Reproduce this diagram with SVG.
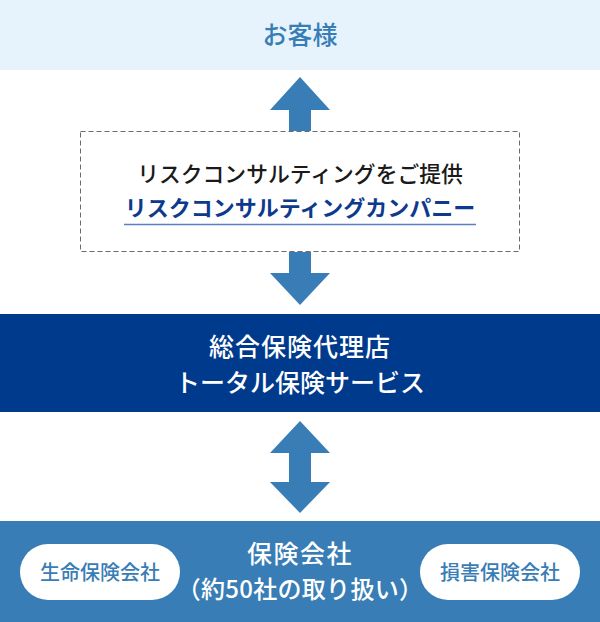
<svg xmlns="http://www.w3.org/2000/svg" width="600" height="622" viewBox="0 0 600 622">
<style>
text{font-family:"Noto Sans CJK JP","Noto Sans",sans-serif;text-anchor:middle}
.arr{fill:#387db5}
</style>
<rect width="600" height="622" fill="#ffffff"/>
<g id="customer">
<rect x="0" y="0" width="600" height="70" fill="#e6f3fd"/>
<text x="300" y="44" font-size="25" font-weight="500" fill="#387db5">お客様</text>
</g>
<g id="consulting">
<rect x="80.5" y="131.5" width="439" height="120" fill="#ffffff" stroke="#6b6b6b" stroke-width="1" stroke-dasharray="5,3"/>
<text x="300" y="182" font-size="21.8" font-weight="500" fill="#1a1a1a">リスクコンサルティングをご提供</text>
<text x="300" y="216" font-size="22" font-weight="700" fill="#0d3a8c">リスクコンサルティングカンパニー</text>
<line x1="124" y1="224.5" x2="476" y2="224.5" stroke="#5a7fc0" stroke-width="1.5"/>
</g>
<g id="agency">
<rect x="0" y="314" width="600" height="98" fill="#003a8c"/>
<text x="300" y="356" font-size="25" font-weight="500" fill="#ffffff" letter-spacing="1">総合保険代理店</text>
<text x="300" y="392" font-size="25" font-weight="500" fill="#ffffff">トータル保険サービス</text>
</g>
<g id="insurers">
<rect x="0" y="521" width="600" height="101" fill="#387db5"/>
<text x="300" y="563" font-size="25" font-weight="500" fill="#ffffff" letter-spacing="1.5">保険会社</text>
<text x="300" y="598" font-size="24" font-weight="500" fill="#ffffff" letter-spacing="0.3">（約50社の取り扱い）</text>
</g>
<g id="life">
<rect x="20" y="544" width="160" height="56" rx="28" fill="#ffffff"/>
<text x="100" y="580" font-size="20" font-weight="500" fill="#387db5">生命保険会社</text>
</g>
<g id="nonlife">
<rect x="420" y="544" width="160" height="56" rx="28" fill="#ffffff"/>
<text x="500" y="580" font-size="20" font-weight="500" fill="#387db5">損害保険会社</text>
</g>
<g id="connectors">
<polygon class="arr" points="300,77 330,110 311,110 311,131 289,131 289,110 270,110"/>
<polygon class="arr" points="289,252 311,252 311,273 330,273 300,305 270,273 289,273"/>
<polygon class="arr" points="300,421 330,453 311,453 311,482 330,482 300,513 270,482 289,482 289,453 270,453"/>
</g>
</svg>
